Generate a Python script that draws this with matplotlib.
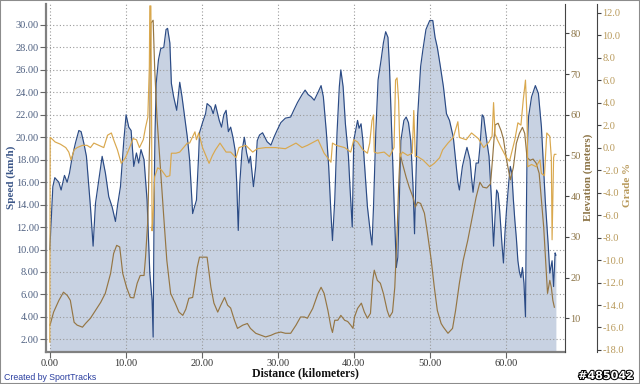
import matplotlib
matplotlib.use("Agg")
import matplotlib.pyplot as plt
import matplotlib.patheffects as pe
from matplotlib.patches import Rectangle
from matplotlib.ticker import FormatStrFormatter

plt.rcParams["font.family"] = ["Liberation Serif", "DejaVu Serif"]

# Speed (km/h) along distance (km)
speed_km = [0.0, 0.4, 0.66, 1.18, 1.49, 1.93, 2.28, 2.59, 2.94, 3.38, 3.82, 4.12, 4.47, 4.82,
            5.13, 5.35, 5.70, 6.01, 6.45, 6.89, 7.32, 7.76, 8.20, 8.64, 8.95, 9.30, 9.74,
            10.04, 10.39, 10.7, 11.05, 11.4, 11.7, 12.0, 12.4, 12.8, 13.16, 13.46, 13.6,
            13.75, 13.85, 14.0, 14.3, 14.6, 15.0, 15.3, 15.5, 15.8, 16.0, 16.3, 16.7, 17.1,
            17.4, 17.8, 18.1, 18.4, 18.8, 19.0, 19.3, 19.6, 19.7, 20.1, 20.5, 20.7, 21.2,
            21.5, 21.8, 22.3, 22.6, 22.9, 23.2, 23.5, 23.8, 24.1, 24.4, 24.6, 24.8, 25.0,
            25.3, 25.6, 25.9, 26.2, 26.4, 26.8, 27.1, 27.3, 27.6, 28.0, 28.3, 28.6, 29.1,
            29.5, 29.9, 30.4, 31.0, 31.7, 32.1, 32.6, 33.2, 33.6, 34.0, 34.4, 34.8, 35.3,
            35.7, 36.0, 36.4, 36.7, 37.0, 37.2, 37.5, 37.8, 38.1, 38.3, 38.6, 38.9, 39.3,
            39.5, 39.8, 40.0, 40.2, 40.5, 40.7, 40.96, 41.2, 41.5, 41.8, 42.2, 42.4, 42.6,
            42.9, 43.2, 43.6, 43.9, 44.2, 44.5, 44.7, 45.0, 45.3, 45.6, 45.8, 46.0, 46.2,
            46.6, 46.9, 47.2, 47.5, 47.8, 48.0, 48.2, 48.4, 48.8, 49.1, 49.5, 50.0, 50.4,
            50.7, 51.0, 51.4, 51.8, 52.2, 52.6, 53.1, 53.4, 53.7, 53.9, 54.3, 54.6, 54.9,
            55.3, 55.5, 55.7, 56.1, 56.4, 56.6, 56.9, 57.1, 57.5, 57.8, 58.1, 58.4, 58.6,
            58.8, 59.0, 59.2, 59.5, 59.7, 59.9, 60.1, 60.4, 60.6, 60.8, 61.0, 61.2, 61.4,
            61.6, 61.8, 62.0, 62.2, 62.4, 62.6, 62.7, 62.8, 63.0, 63.4, 63.9, 64.3, 64.7,
            65.2, 65.6, 65.8, 66.1, 66.3, 66.5, 66.6]
speed_val = [10.0, 15.6, 16.4, 16.0, 15.3, 16.6, 16.0, 16.8, 18.2, 19.5, 20.6, 20.5, 19.5, 18.3,
             15.6, 13.8, 10.3, 14.1, 16.2, 18.3, 16.8, 14.7, 13.8, 12.5, 14.1, 15.6, 19.7,
             22.0, 20.9, 20.6, 17.4, 18.6, 17.7, 18.9, 18.0, 14.4, 7.9, 5.5, 2.2,
             16.0, 20.4, 24.8, 26.9, 27.9, 28.0, 29.6, 29.7, 28.4, 24.8, 23.6, 22.4, 24.9,
             23.6, 21.5, 20.0, 18.0, 13.2, 13.7, 14.4, 18.6, 20.4, 21.3, 22.1, 23.0, 22.7,
             22.1, 22.9, 21.5, 20.9, 22.0, 22.4, 20.5, 20.9, 20.0, 18.8, 15.9, 11.7, 15.9,
             18.8, 20.0, 18.6, 17.7, 18.3, 15.6, 17.4, 19.7, 20.2, 20.4, 20.0, 19.6, 19.3,
             20.0, 20.6, 21.3, 21.7, 21.8, 22.4, 23.1, 23.8, 24.2, 23.8, 23.6, 23.3, 24.0,
             24.6, 23.6, 20.4, 17.4, 13.2, 10.8, 14.4, 20.4, 24.5, 26.0, 24.5, 21.2, 18.3,
             15.6, 12.0, 19.7, 20.4, 21.5, 20.8, 21.2, 19.7, 16.8, 13.8, 11.4, 10.4, 13.8,
             20.4, 25.1, 26.9, 28.4, 29.4, 28.9, 26.3, 20.4, 14.4, 8.4, 9.3, 14.4, 19.7,
             21.5, 21.8, 21.3, 19.7, 15.6, 11.4, 16.8, 21.8, 26.3, 27.8, 29.6, 30.4, 30.4,
             28.9, 28.0, 26.3, 24.5, 22.1, 21.5, 20.0, 18.0, 16.0, 15.3, 17.4, 18.3, 19.1,
             18.0, 16.4, 15.1, 17.7, 17.7, 19.1, 22.0, 21.8, 19.7, 18.3, 14.7, 10.3, 13.0,
             15.3, 15.0, 13.5, 10.5, 8.8, 11.5, 13.5, 16.0, 17.4, 16.8, 14.5, 12.6, 11.0,
             9.0, 8.0, 7.5, 8.4, 7.0, 4.0, 12.0, 18.3, 21.8, 23.6, 24.6, 23.9, 20.9,
             14.4, 10.3, 7.9, 9.0, 6.7, 9.7, 9.5]

# Elevation (meters)
elev_km = [0.0, 0.09, 0.5, 1.2, 1.8, 2.3, 2.7, 3.2, 3.6, 4.3, 4.7, 5.35, 6.0, 6.7, 7.3, 8.0,
           8.4, 8.8, 9.2, 9.6, 10.1, 10.6, 11.05, 11.5, 11.9, 12.4, 12.6, 12.9, 13.16, 13.2,
           13.3, 13.6, 13.8, 14.1, 14.6, 15.0, 15.4, 15.9, 16.5, 17.0, 17.5, 17.9, 18.3,
           18.8, 19.1, 19.4, 19.7, 20.1, 20.7, 21.2, 21.6, 22.1, 22.5, 23.0, 23.4, 23.8,
           24.3, 24.7, 25.4, 26.0, 26.4, 27.1, 27.8, 28.4, 29.1, 29.7, 30.4, 31.0, 31.7,
           32.4, 33.0, 33.5, 33.9, 34.6, 35.3, 35.7, 36.1, 36.6, 37.0, 37.2, 37.5, 37.9,
           38.3, 38.8, 39.2, 39.6, 39.9, 40.1, 40.5, 41.0, 41.4, 41.8, 42.2, 42.5, 42.7,
           43.1, 43.5, 43.9, 44.4, 44.7, 45.1, 45.4, 45.7, 45.9, 46.1, 46.4, 46.9, 47.3,
           47.8, 48.1, 48.4, 48.8, 49.3, 49.7, 50.2, 50.6, 51.0, 51.5, 51.8, 52.4, 53.0,
           53.4, 53.9, 54.4, 55.0, 55.7, 56.1, 56.6, 57.0, 57.5, 58.0, 58.3, 58.6, 59.0,
           59.4, 59.7, 60.1, 60.6, 61.0, 61.4, 61.8, 62.2, 62.5, 62.8, 63.2, 63.6, 64.0,
           64.4, 64.7, 65.0, 65.2, 65.5, 65.8, 66.0, 66.2, 66.4]
elev_val = [8.3, 8.7, 11.5, 14.4, 16.4, 15.6, 14.4, 9.0, 8.3, 7.8, 8.7, 10.0, 11.9, 13.9, 16.1, 21.0,
            25.9, 27.9, 27.5, 21.0, 17.6, 15.1, 15.0, 18.6, 20.5, 20.5, 25.0, 34.1, 55.4, 71.6,
            82.5, 83.2, 71.6, 59.4, 45.6, 34.8, 24.2, 16.1, 13.7, 11.5, 10.7, 12.2, 14.9,
            15.1, 18.6, 22.5, 25.0, 25.0, 25.0, 17.6, 13.7, 11.5, 13.2, 15.1, 13.2, 12.5,
            9.5, 7.5, 8.3, 8.7, 7.5, 6.3, 5.8, 5.4, 5.8, 6.3, 6.6, 6.3, 6.3,
            8.3, 10.3, 10.3, 10.0, 12.4, 16.1, 17.6, 16.1, 11.9, 7.8, 6.5, 9.5, 9.5,
            10.7, 9.5, 9.2, 8.3, 7.5, 10.3, 12.4, 13.7, 11.5, 10.0, 11.2, 19.3, 21.8,
            19.3, 18.6, 16.1, 11.9, 10.3, 11.5, 17.6, 30.9, 42.2, 50.5, 48.1, 44.6, 42.2,
            39.7, 37.3, 38.5, 38.2, 35.8, 30.9, 24.2, 17.6, 11.9, 8.7, 7.8, 6.3, 7.5,
            11.9, 18.6, 24.2, 29.1, 35.8, 39.7, 43.4, 42.2, 42.0, 43.0, 50.0, 57.5, 57.9,
            56.0, 54.0, 49.0, 44.0, 47.0, 53.0, 55.4, 56.9, 55.4, 49.5, 48.8, 49.1, 48.1,
            45.6, 39.0, 32.3, 26.0, 16.1, 19.3, 17.6, 14.4, 12.7]

# Grade (%)
grade_km = [0.0, 0.05, 0.09, 0.7, 1.4, 2.1, 2.5, 2.8, 3.2, 3.6, 4.3, 4.9, 5.35, 5.8, 6.45, 7.1,
            7.6, 8.1, 8.4, 8.9, 9.4, 9.96, 10.5, 10.96, 11.4, 11.8, 12.3, 12.6, 12.9, 13.1,
            13.16, 13.3, 13.4, 13.46, 13.6, 13.8, 14.2, 14.7, 15.35, 15.8, 16.0, 16.6, 17.1,
            18.1, 18.4, 19.1, 19.3, 19.6, 20.1, 20.6, 20.96, 21.4, 21.8, 22.4, 23.2, 23.8,
            24.5, 24.9, 25.8, 26.7, 27.3, 28.4, 29.7, 31.0, 32.4, 33.2, 33.9, 35.3, 36.1,
            37.0, 37.2, 37.7, 38.8, 39.6, 40.0, 40.5, 41.2, 41.8, 42.1, 42.4, 42.6, 42.7,
            43.1, 44.0, 44.7, 45.3, 45.5, 45.7, 45.9, 46.1, 46.4, 47.1, 47.7, 47.9, 48.1,
            48.4, 49.1, 50.0, 50.6, 51.3, 51.7, 52.4, 53.1, 53.7, 53.9, 54.8, 55.5, 56.4,
            57.1, 57.8, 58.2, 58.4, 58.6, 58.9, 59.4, 60.1, 60.5, 61.2, 61.6, 62.0, 62.3,
            62.6, 62.8, 62.9, 63.4, 64.0, 64.5, 64.7, 65.1, 65.4, 65.8, 66.0, 66.1, 66.3,
            66.4, 66.6]
grade_val = [-17.3, 0.9, 0.9, 0.5, 0.3, 0.0, -0.4, -1.1, -0.2, 0.0, 0.2, 0.2, 0.0, 0.4, 0.2, 0.0,
             1.1, 1.3, 0.7, -0.2, -1.4, -0.9, 0.0, 0.8, 0.7, 0.0, 0.7, 1.8, 2.7, 7.2,
             12.6, 12.6, 2.0, -7.4, -6.0, -2.6, -1.8, -2.0, -2.6, -2.5, -0.5, -0.5, -0.4,
             0.4, 0.4, 1.4, 0.7, 1.3, 0.0, -0.8, -1.4, -0.7, -0.2, 0.4, -0.4, -0.4,
             -0.9, 0.0, 0.2, -0.4, -0.1, 0.0, 0.0, -0.1, 0.4, 0.0, 0.2, 0.7, -0.5,
             -1.3, 0.4, 0.2, 0.0, -0.4, 0.7, 0.5, -0.2, -0.5, 0.4, 2.4, 2.9, -0.4,
             -0.5, -0.4, -0.8, 0.0, 6.0, 6.2, 4.2, -0.8, -0.4, -0.7, -0.5, 3.3, -0.8,
             -0.8, -1.1, -1.7, -1.4, -0.9, -0.2, 0.4, 0.9, 2.3, 0.9, 0.7, 1.3, 0.8,
             0.0, 0.5, 1.0, 4.0, 1.2, 0.7, 0.0, -0.9, -1.2, 0.7, 2.2, 2.0, 4.2,
             6.0, 2.7, -1.7, -1.5, -1.7, -1.1, -2.3, -2.5, 1.3, 1.0, -0.9, -8.2, -0.9,
             -0.6, -0.6]

speed_ticks = [2, 4, 6, 8, 10, 12, 14, 16, 18, 20, 22, 24, 26, 28, 30]
elev_ticks = [10, 20, 30, 40, 50, 60, 70, 80]
grade_ticks = [-18, -16, -14, -12, -10, -8, -6, -4, -2, 0, 2, 4, 6, 8, 10, 12]
dist_ticks = [0, 10, 20, 30, 40, 50, 60]

fig = plt.figure(figsize=(6.4, 3.84), dpi=100)
ax = fig.add_axes([46 / 640, 1 - 352 / 384, 519 / 640, 348 / 384])
ax.set_xlim(-0.5, 67.8)
ax.set_ylim(0.87, 31.87)

ax.fill_between(speed_km, 0.87, speed_val, color="#c8d2e2", lw=0, zorder=1)
ax.plot(speed_km, speed_val, color="#2b4b85", lw=0.85, zorder=3)
ax.set_axisbelow(False)
ax.grid(True, linestyle=(0, (1, 2)), color="#9a9a9a", lw=0.8, zorder=2)

ax.set_xticks(dist_ticks)
ax.set_yticks(speed_ticks)
ax.xaxis.set_major_formatter(FormatStrFormatter("%.2f"))
ax.yaxis.set_major_formatter(FormatStrFormatter("%.2f"))
ax.tick_params(axis="y", length=4, width=0.8, color="#666666", labelsize=7.5,
               labelcolor="#4d5f80", pad=1)
ax.tick_params(axis="x", length=4, width=0.8, color="#666666", labelsize=7.5,
               labelcolor="#333333", pad=1)
for side in ("top", "right"):
    ax.spines[side].set_visible(False)
for side in ("left", "bottom"):
    ax.spines[side].set_color("#808080")
    ax.spines[side].set_linewidth(1.6)

ax_e = ax.twinx()
ax_e.set_ylim(1.7, 87.2)
ax_e.plot(elev_km, elev_val, color="#957644", lw=0.85)
ax_e.set_yticks(elev_ticks)
ax_e.tick_params(axis="y", length=3, width=0.8, color="#444444", labelsize=7.5,
                 labelcolor="#8c7446", pad=1)
ax_e.spines["right"].set_color("#444444")
for side in ("top", "left", "bottom"):
    ax_e.spines[side].set_visible(False)

ax_g = ax.twinx()
ax_g.set_ylim(-18.18, 12.77)
ax_g.plot(grade_km, grade_val, color="#d9a84e", lw=0.85)
ax_g.set_yticks(grade_ticks)
ax_g.yaxis.set_major_formatter(FormatStrFormatter("%.1f"))
ax_g.spines["right"].set_position(("axes", 551 / 519))
ax_g.spines["right"].set_color("#444444")
for side in ("top", "left", "bottom"):
    ax_g.spines[side].set_visible(False)
ax_g.tick_params(axis="y", length=3, width=0.8, color="#444444", labelsize=7.5,
                 labelcolor="#b8995a", pad=1)

fig.text(11 / 640, 1 - 177 / 384, "Speed (km/h)", rotation=90, ha="center", va="center",
         fontsize=8, fontweight="bold", color="#3b5688")
fig.text(588 / 640, 1 - 177 / 384, "Elevation (meters)", rotation=90, ha="center",
         va="center", fontsize=8, fontweight="bold", color="#8c7446")
fig.text(628 / 640, 1 - 185 / 384, "Grade %", rotation=90, ha="center", va="center",
         fontsize=8, fontweight="bold", color="#b8995a")
fig.text(305 / 640, 1 - 373 / 384, "Distance (kilometers)", ha="center", va="center",
         fontsize=8.5, fontweight="bold", color="#111111")
fig.text(4 / 640, 1 - 378 / 384, "Created by SportTracks", ha="left", va="center",
         fontsize=6.3, color="#2b3fa0", family="Liberation Sans")
fig.text(634 / 640, 1 - 376 / 384, "#485042", ha="right", va="center", fontsize=8,
         fontweight="bold", color="white", family="DejaVu Sans",
         path_effects=[pe.withStroke(linewidth=1.5, foreground="black")])

fig.patches.append(Rectangle((0, 0), 1, 1, transform=fig.transFigure, fill=False,
                             edgecolor="#8c8c8c", lw=1.5))

fig.savefig("out.png", dpi=100)
